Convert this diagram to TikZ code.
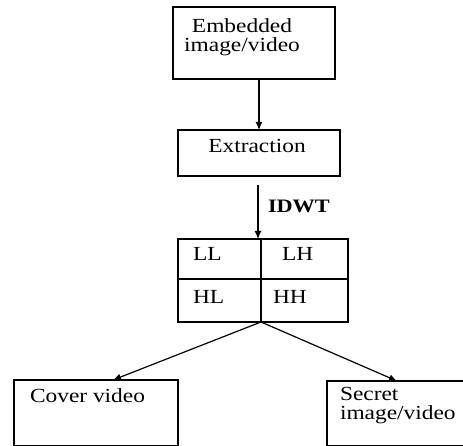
\documentclass[tikz,border=0pt]{standalone}
\usepackage{fontspec}
\setmainfont{Liberation Serif}[FakeStretch=1.17]
\usetikzlibrary{arrows.meta,calc}
\begin{document}
\begin{tikzpicture}[x=1pt,y=-1pt,
  box/.style={draw=black,line width=1.2pt,rectangle,inner sep=0pt,outer sep=0pt},
  txt/.style={inner sep=0pt,outer sep=0pt,font=\fontsize{20}{19.5}\selectfont},
  arr/.style={draw=black,line width=1.2pt,-{Latex[length=8pt,width=7pt]}},
  ln/.style={draw=black,line width=1.2pt}]
\useasboundingbox (0,0) rectangle (463,446);
% boxes
\node[box,minimum width=162pt,minimum height=72pt] (emb) at (254,43) {};
\node[box,minimum width=162pt,minimum height=46pt] (ext) at (259,153) {};
\node[box,minimum width=170pt,minimum height=83pt] (grid) at (263,280.5) {};
\node[box,minimum width=164pt,minimum height=66pt] (cover) at (96,413) {};
\node[box,minimum width=140pt,minimum height=65pt] (secret) at (397,413.5) {};
% grid dividers
\coordinate (vtop) at (261,239);
\coordinate (split) at (261,322);
\coordinate (hl) at (178,279);
\coordinate (hr) at (348,279);
\draw[ln] (vtop) -- (split);
\draw[ln] (hl) -- (hr);
% texts
\node[txt,align=center,anchor=north] (tEmb) at (242,18.5) {Embedded\\image/video};
\node[txt,anchor=base] (tExt) at (257,153) {Extraction};
\node[txt,anchor=base west,font=\fontsize{19}{19}\selectfont\bfseries] (tIdwt) at (268,213) {IDWT};
\node[txt,anchor=base west] (tLL) at (193,261) {LL};
\node[txt,anchor=base west] (tLH) at (282,261) {LH};
\node[txt,anchor=base west] (tHL) at (193,303) {HL};
\node[txt,anchor=base west] (tHH) at (273,303) {HH};
\node[txt,anchor=base west] (tCov) at (30,402) {Cover video};
\node[txt,align=left,anchor=north west] (tSec) at (340,387) {Secret\\image/video};
% connectors
\coordinate (idwtstart) at (258,185);
\draw[arr] (ext.north |- emb.south) -- (ext.north);
\draw[arr] (idwtstart) -- (grid.north -| idwtstart);
\draw[arr] (split) -- ([xshift=17pt]cover.north);
\draw[arr] (split) -- (secret.north);
\end{tikzpicture}
\end{document}
